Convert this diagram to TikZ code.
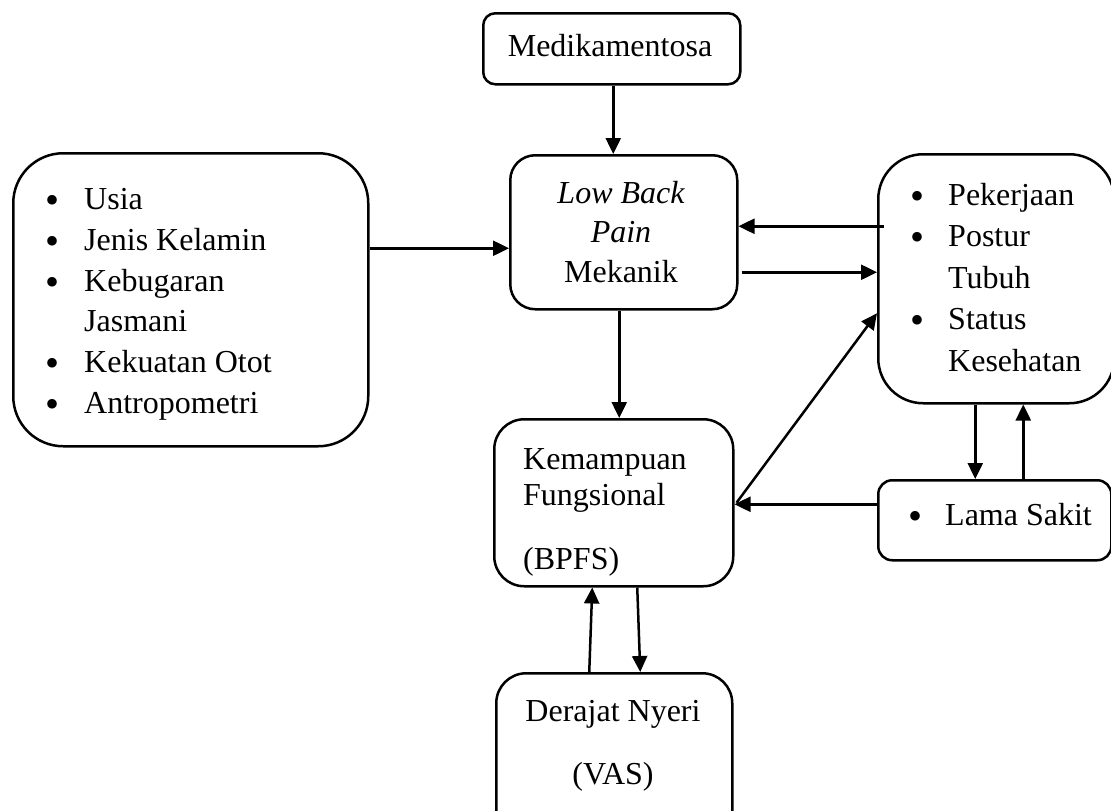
\documentclass[tikz,border=0pt]{standalone}
\usepackage{fontspec}
\setmainfont{Liberation Serif}
\usetikzlibrary{arrows.meta}
\begin{document}
\begin{tikzpicture}[x=1pt,y=-1pt,
  box/.style={draw, line width=2.5pt, inner sep=0pt, anchor=north west},
  txt/.style={font=\fontsize{32}{37}\selectfont, inner sep=0pt},
  bul/.style={font=\fontsize{40}{40}\selectfont, inner sep=0pt, anchor=base},
  arr/.style={line width=2.5pt, -{Triangle[length=16pt,width=15pt]}}]
\useasboundingbox (0,0) rectangle (1111,811);
\clip (0,0) rectangle (1111,811);
\fill[white] (0,0) rectangle (1111,811);
% boxes
\node[box, rounded corners=12pt, minimum width=257pt, minimum height=71pt] (med) at (482,12) {};
\node[box, rounded corners=25pt, minimum width=227pt, minimum height=154pt] (lbp) at (509,154) {};
\node[box, rounded corners=50pt, minimum width=355pt, minimum height=293pt] (fac) at (12,152) {};
\node[box, rounded corners=45pt, minimum width=236pt, minimum height=249pt] (kerja) at (877,153) {};
\node[box, rounded corners=14pt, minimum width=233pt, minimum height=80pt] (lama) at (877,479) {};
\node[box, rounded corners=30pt, minimum width=239pt, minimum height=167pt] (kem) at (493,418) {};
\node[box, rounded corners=30pt, minimum width=236pt, minimum height=168pt] (vas) at (495,672) {};
% texts
\node[txt, anchor=base] (tmed) at (610,56) {Medikamentosa};
\node[txt, anchor=base] (tlbp1) at (621,203) {\itshape Low Back};
\node[txt, anchor=base] (tlbp2) at (621,242) {\itshape Pain};
\node[txt, anchor=base] (tlbp3) at (621,282) {Mekanik};
% left list
\foreach \t/\b/\y [count=\i] in {Usia/1/209, Jenis Kelamin/1/250, Kebugaran/1/291, Jasmani/0/331.5, Kekuatan Otot/1/372, Antropometri/1/413}{
  \node[txt, anchor=base west] (fa\i) at (84,\y) {\t};
  \ifnum\b=1 \node[bul] (fb\i) at (53,\y+4) {\textbullet};\fi
}
% right list
\foreach \t/\b/\y [count=\i] in {Pekerjaan/1/205, Postur/1/246.5, Tubuh/0/288, Status/1/329.5, Kesehatan/0/371}{
  \node[txt, anchor=base west] (ka\i) at (948,\y) {\t};
  \ifnum\b=1 \node[bul] (kb\i) at (917,\y+4) {\textbullet};\fi
}
\node[txt, anchor=base west] (tlama) at (945,525) {Lama Sakit};
\node[bul] (blama) at (915,529) {\textbullet};
\node[txt, anchor=base west] (tkem1) at (523,469) {Kemampuan};
\node[txt, anchor=base west] (tkem2) at (523,505) {Fungsional};
\node[txt, anchor=base west] (tkem3) at (523,569) {(BPFS)};
\node[txt, anchor=base] (tvas1) at (613,721) {Derajat Nyeri};
\node[txt, anchor=base] (tvas2) at (613,784) {(VAS)};
% arrows
\draw[arr] ([xshift=1.5pt]med.south) coordinate (a1) -- (a1 |- lbp.north);
\draw[arr] ([yshift=51.5pt]fac.east) coordinate (a2) -- (a2 -| lbp.west);
\draw[arr] ([xshift=7pt,yshift=52.5pt]kerja.west) coordinate (a3) -- (a3 -| lbp.east);
\draw[arr] ([xshift=3pt,yshift=-40pt]lbp.east) coordinate (a4) -- (a4 -| kerja.west);
\draw[arr] ([xshift=-4.5pt]lbp.south) coordinate (a5) -- (a5 |- kem.north);
\draw[arr] ([xshift=2pt]kem.east) -- ([yshift=-34.5pt]kerja.west);
\draw[arr] ([yshift=16pt]lama.west) coordinate (a7) -- (a7 -| kem.east);
\draw[arr] ([xshift=-21pt]kerja.south) coordinate (a8) -- (a8 |- lama.north);
\draw[arr] ([xshift=28.5pt]lama.north) coordinate (a9) -- (a9 |- kerja.south);
\draw[arr] ([xshift=-25pt]vas.north) -- ([xshift=-21.5pt]kem.south);
\draw[arr] ([xshift=23.5pt]kem.south) -- ([xshift=26pt]vas.north);
\end{tikzpicture}
\end{document}
